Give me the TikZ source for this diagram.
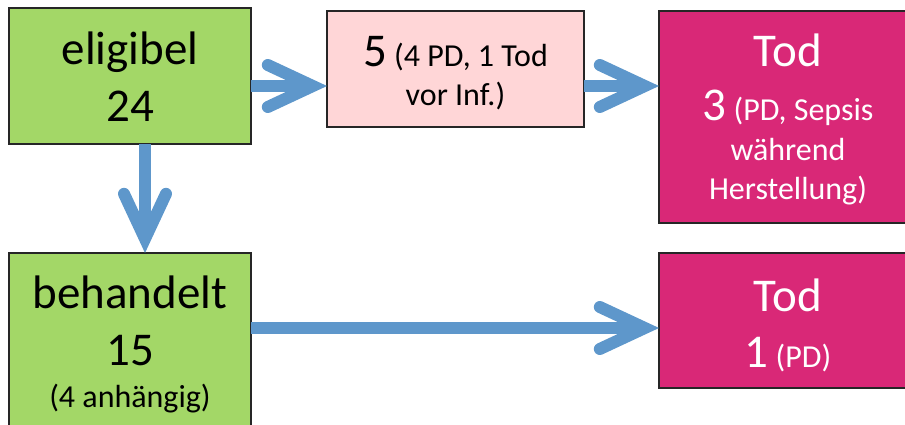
\documentclass[tikz,border=0pt]{standalone}
\usepackage{fontspec}
\setmainfont{Carlito}
\usetikzlibrary{arrows.meta}

\definecolor{boxgreen}{HTML}{A3D767}
\definecolor{boxrose}{HTML}{FFD6D7}
\definecolor{boxmagenta}{HTML}{D92877}
\definecolor{flowblue}{HTML}{5E97CB}

\newcommand{\gross}{\fontsize{47}{57}\selectfont}

\begin{document}
\begin{tikzpicture}[
    x=1pt, y=-1pt,
    box/.style={rectangle, draw=black!85, line width=1.2pt, inner sep=0pt, outer sep=0pt, align=center},
    note/.style={font=\fontsize{32}{39.5}\selectfont},
    flow/.style={draw=flowblue, line width=12pt, -{Straight Barb[length=45pt, width=42pt, line cap=round, line join=miter]}}
]
\useasboundingbox (0,0) rectangle (905,425);

% Define boxes
\node[box, fill=boxgreen, minimum width=242pt, minimum height=136pt, font=\gross] (elig) at (130, 76) {\rule{0pt}{35pt}eligibel\\24};
\node[box, note, fill=boxrose, minimum width=257pt, minimum height=116pt] (wait) at (455.5, 69) {\rule{0pt}{38pt}{\gross 5} (4 PD, 1 Tod\\vor Inf.)};
\node[box, note, fill=boxmagenta, text=white, minimum width=258pt, minimum height=212pt] (tod1) at (788, 117) {\rule{0pt}{38pt}{\gross Tod}\\[15pt]{\gross 3} (PD, Sepsis\\während\\Herstellung)};
\node[box, note, fill=boxgreen, minimum width=242pt, minimum height=183pt] (beh) at (130, 344.5) {{\gross behandelt}\\[17.5pt]{\gross 15}\\[2pt](4 anhängig)};
\node[box, note, fill=boxmagenta, text=white, minimum width=258pt, minimum height=135pt] (tod2) at (788, 320.5) {\rule{0pt}{42pt}{\gross Tod}\\[17pt]{\gross 1} (PD)};

% Define arrows
\coordinate (row1) at (0, 86);
\coordinate (row2) at (0, 328);
\coordinate (col1) at (145, 0);
\draw[flow] (elig.east |- row1) -- (wait.west |- row1);
\draw[flow] (wait.east |- row1) -- (tod1.west |- row1);
\draw[flow] (elig.south -| col1) -- (beh.north -| col1);
\draw[flow] (beh.east |- row2) -- (tod2.west |- row2);

\end{tikzpicture}
\end{document}
